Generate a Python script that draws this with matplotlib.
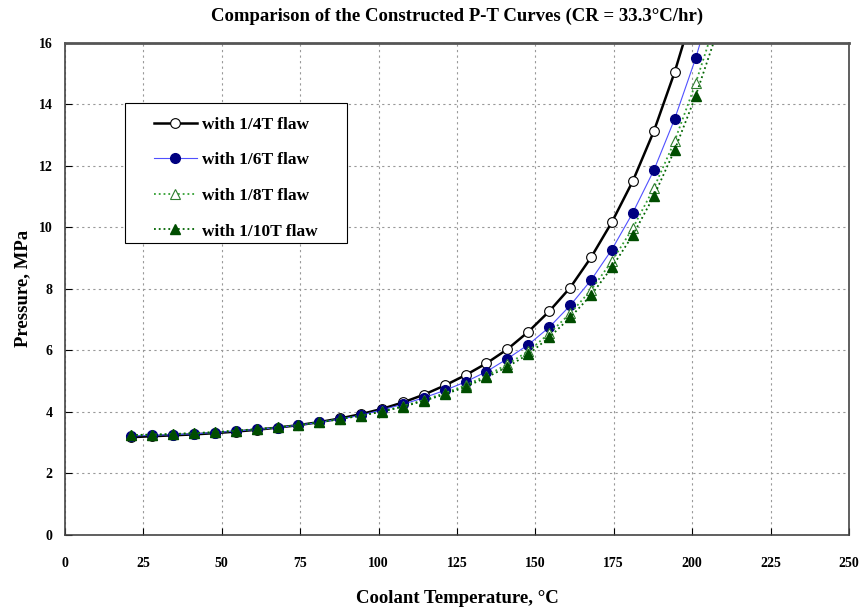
import numpy as np
import matplotlib
matplotlib.use('Agg')
import matplotlib.pyplot as plt
from matplotlib.patches import Rectangle

# coolant temperature (C), one point every 0.2 hr at 33.3 C/hr
temp = [21.1, 27.8, 34.4, 41.1, 47.8, 54.4, 61.1, 67.8, 74.4, 81.1,
        87.8, 94.4, 101.1, 107.8, 114.4, 121.1, 127.8, 134.4, 141.1, 147.8,
        154.4, 161.1, 167.8, 174.4, 181.1, 187.8, 194.4, 201.1, 207.8]

# pressure limits (MPa)
p_quarter = [3.18, 3.21, 3.24, 3.27, 3.31, 3.36, 3.42, 3.49, 3.57, 3.67,
             3.79, 3.93, 4.10, 4.31, 4.56, 4.86, 5.20, 5.58, 6.04, 6.61,
             7.27, 8.04, 9.03, 10.17, 11.51, 13.13, 15.04, 17.30]
p_sixth = [3.22, 3.24, 3.26, 3.29, 3.33, 3.38, 3.43, 3.49, 3.57, 3.66,
           3.77, 3.89, 4.07, 4.25, 4.46, 4.70, 4.98, 5.31, 5.73, 6.19,
           6.75, 7.46, 8.29, 9.28, 10.48, 11.86, 13.52, 15.49, 17.80]
p_eighth = [3.25, 3.26, 3.28, 3.31, 3.34, 3.39, 3.44, 3.50, 3.57, 3.66,
            3.77, 3.88, 4.02, 4.19, 4.39, 4.61, 4.87, 5.18, 5.55, 5.98,
            6.55, 7.20, 7.97, 8.90, 9.98, 11.28, 12.80, 14.68, 16.80]
p_tenth = [3.25, 3.26, 3.28, 3.31, 3.34, 3.39, 3.44, 3.50, 3.57, 3.66,
           3.77, 3.88, 4.01, 4.17, 4.36, 4.57, 4.82, 5.12, 5.47, 5.88,
           6.42, 7.07, 7.80, 8.70, 9.75, 11.02, 12.51, 14.27, 16.30]

xticks = [0, 25, 50, 75, 100, 125, 150, 175, 200, 225, 250]
yticks = [0, 2, 4, 6, 8, 10, 12, 14, 16]

plt.rcParams['font.family'] = ['Liberation Serif', 'DejaVu Serif']
plt.rcParams['font.weight'] = 'bold'

fig = plt.figure(figsize=(8.61, 6.11), dpi=100)
ax = fig.add_axes([0.0755, 0.1244, 0.9105, 0.8056])

ax.plot(temp[:len(p_quarter)], p_quarter, '-', color='black', lw=1.8,
        marker='o', ms=7, mfc='white', mec='black', mew=0.8,
        label='with 1/4T flaw')
ax.plot(temp, p_sixth, '-', color='#5050ff', lw=0.8,
        marker='o', ms=7, mfc='#000080', mec='#000080',
        label='with 1/6T flaw')
ax.plot(temp, p_eighth, ':', color='#33a033', lw=1.3,
        marker='^', ms=7, mfc='white', mec='#2e7d2e', mew=0.8,
        label='with 1/8T flaw')
ax.plot(temp, p_tenth, ':', color='#006400', lw=1.3,
        marker='^', ms=7, mfc='#004d00', mec='#004d00',
        label='with 1/10T flaw')

ax.set_xlim(0, 250)
ax.set_ylim(0, 16)
ax.set_xticks(xticks)
ax.set_yticks(yticks)
ax.tick_params(axis='x', direction='in', length=5, pad=16, labelsize=10)
ax.tick_params(axis='y', direction='in', length=5, pad=9, labelsize=10)
ax.grid(True, linestyle=(0, (2, 3)), color='#999999', lw=0.8)

for s in ax.spines.values():
    s.set_color('#444444')
    s.set_linewidth(1.2)
ax.spines['top'].set_linewidth(2.0)
ax.spines['top'].set_color('#555555')

ax.set_title('Comparison of the Constructed P-T Curves (CR = 33.3\u00b0C/hr)',
             fontsize=13.5, fontweight='bold', pad=16)
ax.set_xlabel('Coolant Temperature, \u00b0C', fontsize=13.5, fontweight='bold', labelpad=14)
ax.set_ylabel('Pressure, MPa', fontsize=13.5, fontweight='bold', labelpad=5)

# legend frame drawn separately so the padding can match (x 125-347 px, y 103-243 px)
box = Rectangle((0.0765, 0.593), 0.2832, 0.2845, transform=ax.transAxes,
                facecolor='white', edgecolor='black', lw=0.8, zorder=4.5)
ax.add_patch(box)
leg = ax.legend(loc='upper left', bbox_to_anchor=(0.113, 0.850), fontsize=12.5,
                frameon=False, handlelength=2.5, labelspacing=1.12,
                borderpad=0, borderaxespad=0, handletextpad=0.3)

fig.savefig('out.png', dpi=100)
